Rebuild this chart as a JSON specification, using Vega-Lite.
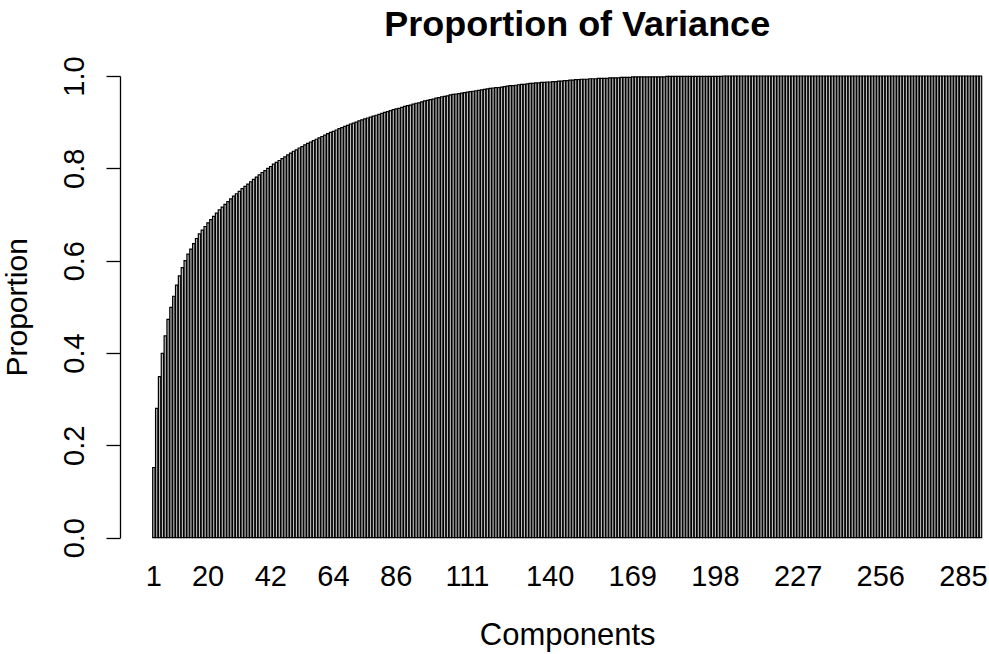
{
  "$schema": "https://vega.github.io/schema/vega-lite/v6.json",
  "autosize": {"type": "none"},
  "padding": {"left": 152.7, "top": 76, "right": 7, "bottom": 116},
  "width": 829,
  "height": 461.7,
  "background": "white",
  "config": {
    "view": {"stroke": null},
    "font": "Liberation Sans"
  },
  "title": {
    "text": "Proportion of Variance",
    "font": "Liberation Sans",
    "fontSize": 36,
    "fontWeight": "bold",
    "color": "black",
    "anchor": "middle",
    "frame": "group",
    "baseline": "alphabetic",
    "offset": -16,
    "dx": 10
  },
  "data": {
    "values": [
      {"c":1,"p":0.152},{"c":2,"p":0.280},{"c":3,"p":0.349},{"c":4,"p":0.399},{"c":5,"p":0.437},
      {"c":6,"p":0.473},{"c":7,"p":0.499},{"c":8,"p":0.523},{"c":9,"p":0.547},{"c":10,"p":0.567},
      {"c":11,"p":0.585},{"c":12,"p":0.600},{"c":13,"p":0.614},{"c":14,"p":0.625},{"c":15,"p":0.637},
      {"c":16,"p":0.648},{"c":17,"p":0.658},{"c":18,"p":0.666},{"c":19,"p":0.674},{"c":20,"p":0.682},
      {"c":21,"p":0.689},{"c":22,"p":0.696},{"c":23,"p":0.703},{"c":24,"p":0.710},{"c":25,"p":0.716},
      {"c":26,"p":0.722},{"c":27,"p":0.728},{"c":28,"p":0.734},{"c":29,"p":0.740},{"c":30,"p":0.745},
      {"c":31,"p":0.750},{"c":32,"p":0.756},{"c":33,"p":0.761},{"c":34,"p":0.766},{"c":35,"p":0.771},
      {"c":36,"p":0.776},{"c":37,"p":0.781},{"c":38,"p":0.786},{"c":39,"p":0.791},{"c":40,"p":0.795},
      {"c":41,"p":0.800},{"c":42,"p":0.804},{"c":43,"p":0.809},{"c":44,"p":0.813},{"c":45,"p":0.817},
      {"c":46,"p":0.821},{"c":47,"p":0.825},{"c":48,"p":0.829},{"c":49,"p":0.833},{"c":50,"p":0.837},
      {"c":51,"p":0.840},{"c":52,"p":0.844},{"c":53,"p":0.847},{"c":54,"p":0.851},{"c":55,"p":0.854},
      {"c":56,"p":0.857},{"c":57,"p":0.860},{"c":58,"p":0.863},{"c":59,"p":0.866},{"c":60,"p":0.869},
      {"c":61,"p":0.872},{"c":62,"p":0.875},{"c":63,"p":0.878},{"c":64,"p":0.880},{"c":65,"p":0.883},
      {"c":66,"p":0.886},{"c":67,"p":0.888},{"c":68,"p":0.891},{"c":69,"p":0.893},{"c":70,"p":0.896},
      {"c":71,"p":0.898},{"c":72,"p":0.900},{"c":73,"p":0.903},{"c":74,"p":0.905},{"c":75,"p":0.907},
      {"c":76,"p":0.909},{"c":77,"p":0.911},{"c":78,"p":0.913},{"c":79,"p":0.915},{"c":80,"p":0.917},
      {"c":81,"p":0.919},{"c":82,"p":0.921},{"c":83,"p":0.923},{"c":84,"p":0.925},{"c":85,"p":0.927},
      {"c":86,"p":0.929},{"c":87,"p":0.930},{"c":88,"p":0.932},{"c":89,"p":0.934},{"c":90,"p":0.936},
      {"c":91,"p":0.937},{"c":92,"p":0.939},{"c":93,"p":0.941},{"c":94,"p":0.942},{"c":95,"p":0.944},
      {"c":96,"p":0.946},{"c":97,"p":0.947},{"c":98,"p":0.949},{"c":99,"p":0.950},{"c":100,"p":0.952},
      {"c":101,"p":0.953},{"c":102,"p":0.955},{"c":103,"p":0.956},{"c":104,"p":0.957},{"c":105,"p":0.959},
      {"c":106,"p":0.960},{"c":107,"p":0.961},{"c":108,"p":0.962},{"c":109,"p":0.963},{"c":110,"p":0.964},
      {"c":111,"p":0.965},{"c":112,"p":0.966},{"c":113,"p":0.967},{"c":114,"p":0.968},{"c":115,"p":0.969},
      {"c":116,"p":0.970},{"c":117,"p":0.971},{"c":118,"p":0.972},{"c":119,"p":0.973},{"c":120,"p":0.974},
      {"c":121,"p":0.975},{"c":122,"p":0.975},{"c":123,"p":0.976},{"c":124,"p":0.977},{"c":125,"p":0.978},
      {"c":126,"p":0.979},{"c":127,"p":0.979},{"c":128,"p":0.980},{"c":129,"p":0.981},{"c":130,"p":0.982},
      {"c":131,"p":0.982},{"c":132,"p":0.983},{"c":133,"p":0.984},{"c":134,"p":0.984},{"c":135,"p":0.985},
      {"c":136,"p":0.985},{"c":137,"p":0.986},{"c":138,"p":0.986},{"c":139,"p":0.987},{"c":140,"p":0.987},
      {"c":141,"p":0.988},{"c":142,"p":0.988},{"c":143,"p":0.989},{"c":144,"p":0.989},{"c":145,"p":0.990},
      {"c":146,"p":0.990},{"c":147,"p":0.991},{"c":148,"p":0.991},{"c":149,"p":0.992},{"c":150,"p":0.992},
      {"c":151,"p":0.993},{"c":152,"p":0.993},{"c":153,"p":0.993},{"c":154,"p":0.994},{"c":155,"p":0.994},
      {"c":156,"p":0.994},{"c":157,"p":0.995},{"c":158,"p":0.995},{"c":159,"p":0.995},{"c":160,"p":0.995},
      {"c":161,"p":0.996},{"c":162,"p":0.996},{"c":163,"p":0.996},{"c":164,"p":0.996},{"c":165,"p":0.997},
      {"c":166,"p":0.997},{"c":167,"p":0.997},{"c":168,"p":0.997},{"c":169,"p":0.998},{"c":170,"p":0.998},
      {"c":171,"p":0.998},{"c":172,"p":0.998},{"c":173,"p":0.998},{"c":174,"p":0.998},{"c":175,"p":0.998},
      {"c":176,"p":0.998},{"c":177,"p":0.998},{"c":178,"p":0.998},{"c":179,"p":0.998},{"c":180,"p":0.998},
      {"c":181,"p":0.999},{"c":182,"p":0.999},{"c":183,"p":0.999},{"c":184,"p":0.999},{"c":185,"p":0.999},
      {"c":186,"p":0.999},{"c":187,"p":0.999},{"c":188,"p":0.999},{"c":189,"p":0.999},{"c":190,"p":0.999},
      {"c":191,"p":0.999},{"c":192,"p":0.999},{"c":193,"p":0.999},{"c":194,"p":0.999},{"c":195,"p":0.999},
      {"c":196,"p":0.999},{"c":197,"p":0.999},{"c":198,"p":0.999},{"c":199,"p":0.999},{"c":200,"p":0.999},
      {"c":201,"p":1.0},{"c":202,"p":1.0},{"c":203,"p":1.0},{"c":204,"p":1.0},{"c":205,"p":1.0},
      {"c":206,"p":1.0},{"c":207,"p":1.0},{"c":208,"p":1.0},{"c":209,"p":1.0},{"c":210,"p":1.0},
      {"c":211,"p":1.0},{"c":212,"p":1.0},{"c":213,"p":1.0},{"c":214,"p":1.0},{"c":215,"p":1.0},
      {"c":216,"p":1.0},{"c":217,"p":1.0},{"c":218,"p":1.0},{"c":219,"p":1.0},{"c":220,"p":1.0},
      {"c":221,"p":1.0},{"c":222,"p":1.0},{"c":223,"p":1.0},{"c":224,"p":1.0},{"c":225,"p":1.0},
      {"c":226,"p":1.0},{"c":227,"p":1.0},{"c":228,"p":1.0},{"c":229,"p":1.0},{"c":230,"p":1.0},
      {"c":231,"p":1.0},{"c":232,"p":1.0},{"c":233,"p":1.0},{"c":234,"p":1.0},{"c":235,"p":1.0},
      {"c":236,"p":1.0},{"c":237,"p":1.0},{"c":238,"p":1.0},{"c":239,"p":1.0},{"c":240,"p":1.0},
      {"c":241,"p":1.0},{"c":242,"p":1.0},{"c":243,"p":1.0},{"c":244,"p":1.0},{"c":245,"p":1.0},
      {"c":246,"p":1.0},{"c":247,"p":1.0},{"c":248,"p":1.0},{"c":249,"p":1.0},{"c":250,"p":1.0},
      {"c":251,"p":1.0},{"c":252,"p":1.0},{"c":253,"p":1.0},{"c":254,"p":1.0},{"c":255,"p":1.0},
      {"c":256,"p":1.0},{"c":257,"p":1.0},{"c":258,"p":1.0},{"c":259,"p":1.0},{"c":260,"p":1.0},
      {"c":261,"p":1.0},{"c":262,"p":1.0},{"c":263,"p":1.0},{"c":264,"p":1.0},{"c":265,"p":1.0},
      {"c":266,"p":1.0},{"c":267,"p":1.0},{"c":268,"p":1.0},{"c":269,"p":1.0},{"c":270,"p":1.0},
      {"c":271,"p":1.0},{"c":272,"p":1.0},{"c":273,"p":1.0},{"c":274,"p":1.0},{"c":275,"p":1.0},
      {"c":276,"p":1.0},{"c":277,"p":1.0},{"c":278,"p":1.0},{"c":279,"p":1.0},{"c":280,"p":1.0},
      {"c":281,"p":1.0},{"c":282,"p":1.0},{"c":283,"p":1.0},{"c":284,"p":1.0},{"c":285,"p":1.0},
      {"c":286,"p":1.0},{"c":287,"p":1.0},{"c":288,"p":1.0},{"c":289,"p":1.0},{"c":290,"p":1.0},
      {"c":291,"p":1.0}
    ]
  },
  "mark": {
    "type": "bar",
    "fill": "#bebebe",
    "stroke": "black",
    "strokeWidth": 1.2
  },
  "encoding": {
    "x": {
      "field": "c",
      "type": "ordinal",
      "scale": {"paddingInner": 0.1667, "paddingOuter": 0},
      "axis": {
        "title": "Components",
        "titleFont": "Liberation Sans",
        "titleFontSize": 31,
        "titleFontWeight": "normal",
        "titleColor": "black",
        "titleBaseline": "alphabetic",
        "titleY": 107,
        "values": [1, 20, 42, 64, 86, 111, 140, 169, 198, 227, 256, 285],
        "labelAngle": 0,
        "labelFont": "Liberation Sans",
        "labelFontSize": 29,
        "labelColor": "black",
        "labelBaseline": "alphabetic",
        "labelPadding": 47.6,
        "labelOverlap": false,
        "ticks": false,
        "domain": false,
        "grid": false
      }
    },
    "y": {
      "field": "p",
      "type": "quantitative",
      "scale": {"domain": [0, 1], "nice": false, "zero": true},
      "axis": {
        "title": "Proportion",
        "titleFont": "Liberation Sans",
        "titleFontSize": 30,
        "titleFontWeight": "normal",
        "titleColor": "black",
        "titleBaseline": "alphabetic",
        "titleAngle": -90,
        "titleX": -94,
        "values": [0, 0.2, 0.4, 0.6, 0.8, 1.0],
        "format": ".1f",
        "offset": 32.7,
        "labelAngle": -90,
        "labelAlign": "center",
        "labelBaseline": "alphabetic",
        "labelFont": "Liberation Sans",
        "labelFontSize": 29,
        "labelColor": "black",
        "labelPadding": 23,
        "tickSize": 14,
        "tickColor": "black",
        "tickWidth": 1.3,
        "domainColor": "black",
        "domainWidth": 1.3,
        "grid": false
      }
    }
  }
}
